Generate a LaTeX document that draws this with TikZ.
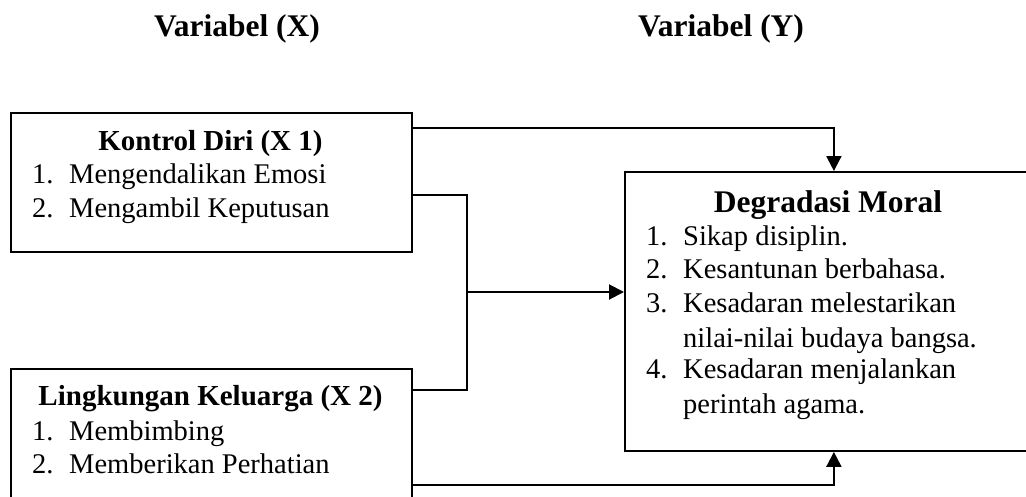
\documentclass[tikz,border=0pt]{standalone}
\usepackage{fontspec}
\setmainfont{Liberation Serif}
\usetikzlibrary{arrows.meta,calc}
\tikzset{
  box/.style={draw, line width=1.9pt, anchor=north west, inner sep=0pt},
  head/.style={anchor=base, font=\fontsize{29}{34}\selectfont\bfseries, inner sep=0pt},
  bighead/.style={anchor=base, font=\fontsize{31.5}{36}\selectfont\bfseries, inner sep=0pt},
  item/.style={anchor=base west, font=\fontsize{28.5}{34}\selectfont, inner sep=0pt},
  conn/.style={line width=2pt},
  arr/.style={conn, -{Triangle[length=15pt,width=15pt]}}
}
\begin{document}
\begin{tikzpicture}[x=1pt, y=-1pt]
  \useasboundingbox (0,0) rectangle (1026,496);
  \clip (0,0) rectangle (1026,496);
  % titles of the two variables
  \node[bighead] (varx) at (237,36) {Variabel (X)};
  \node[bighead] (vary) at (721,36) {Variabel (Y)};
  % boxes
  \node[box, minimum width=401pt, minimum height=139pt] (kontrol) at (10,112) {};
  \node[box, minimum width=401pt, minimum height=139pt] (lingkungan) at (10,368) {};
  \node[box, minimum width=416pt, minimum height=279pt] (moral) at (624,171) {};
  % Kontrol Diri
  \node[head] (kontrolT) at (210.5,150) {Kontrol Diri (X 1)};
  \node[item] (k1n) at (32,183) {1.};
  \node[item] (k1) at (69,183) {Mengendalikan Emosi};
  \node[item] (k2n) at (32,217) {2.};
  \node[item] (k2) at (69,217) {Mengambil Keputusan};
  % Lingkungan Keluarga
  \node[head] (lingT) at (210.5,405) {Lingkungan Keluarga (X 2)};
  \node[item] (l1n) at (32,440) {1.};
  \node[item] (l1) at (69,440) {Membimbing};
  \node[item] (l2n) at (32,473) {2.};
  \node[item] (l2) at (69,473) {Memberikan Perhatian};
  % Degradasi Moral
  \node[bighead] (moralT) at (828,212) {Degradasi Moral};
  \node[item] (m1n) at (646,245) {1.};
  \node[item] (m1) at (683,245) {Sikap disiplin.};
  \node[item] (m2n) at (646,278) {2.};
  \node[item] (m2) at (683,278) {Kesantunan berbahasa.};
  \node[item] (m3n) at (646,312) {3.};
  \node[item] (m3) at (683,312) {Kesadaran melestarikan};
  \node[item] (m3b) at (683,347) {nilai-nilai budaya bangsa.};
  \node[item] (m4n) at (646,378) {4.};
  \node[item] (m4) at (683,378) {Kesadaran menjalankan};
  \node[item] (m4b) at (683,413) {perintah agama.};
  % connectors
  \coordinate (join) at (467,292);
  \draw[arr] ([yshift=-16pt]kontrol.north east) -| ([xshift=-208pt]moral.north east);
  \draw[conn] ([yshift=-83pt]kontrol.north east) -| (join) |- ([yshift=-22pt]lingkungan.north east);
  \draw[arr] (join) -- (join -| moral.west);
  \draw[arr] ([yshift=-117pt]lingkungan.north east) -| ([xshift=-208pt]moral.south east);
\end{tikzpicture}
\end{document}
